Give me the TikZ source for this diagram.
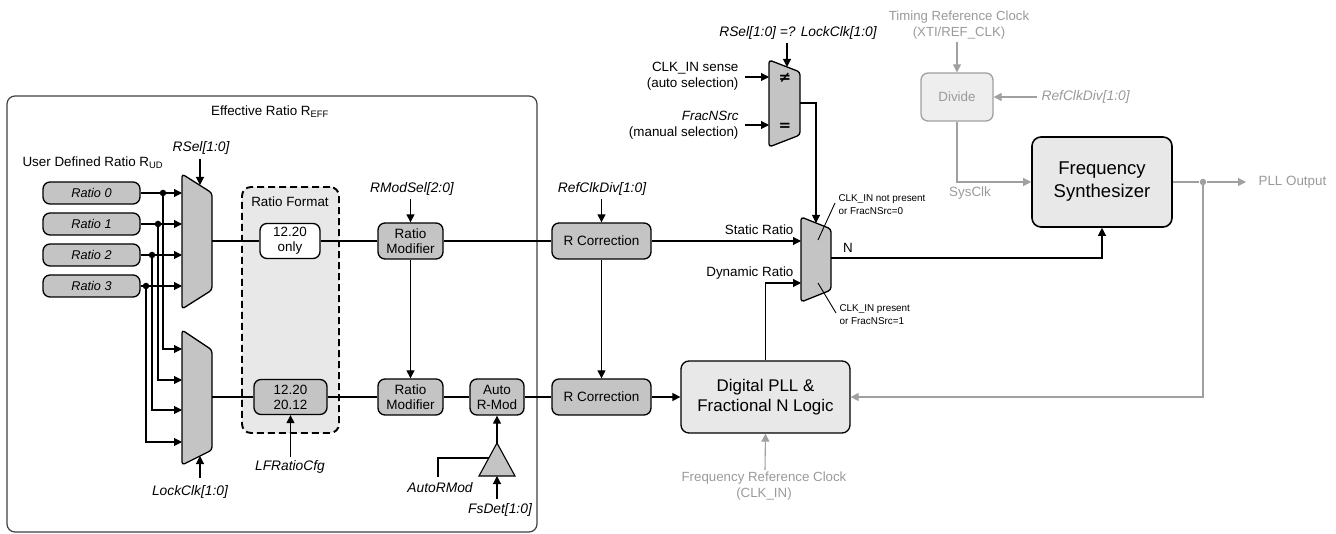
\documentclass[tikz,border=0pt]{standalone}
\usepackage{fontspec}
\setmainfont{Liberation Sans}
\newfontfamily\djvfont{DejaVu Sans}
\usetikzlibrary{arrows.meta,calc}
\definecolor{blk}{HTML}{C4C4C4}
\definecolor{lite}{HTML}{E8E8E8}
\definecolor{gline}{HTML}{A0A0A0}
\definecolor{gtext}{HTML}{9A9A9A}
\definecolor{gfill}{HTML}{EEEEEE}
\begin{document}
\begin{tikzpicture}[x=1pt,y=-1pt,line width=1.1pt,
  >={Triangle[length=8pt,width=8pt]},
  txt/.style={font=\fontsize{13.4pt}{16pt}\selectfont,inner sep=0pt},
  itx/.style={font=\fontsize{13.8pt}{16pt}\selectfont\itshape,inner sep=0pt},
  small/.style={font=\fontsize{9.9pt}{13pt}\selectfont,inner sep=0pt,align=left},
  gbox/.style={draw,line width=1.3pt,rounded corners=7pt,fill=blk,inner sep=0pt,align=center,font=\fontsize{13.5pt}{15pt}\selectfont},
  ratiobox/.style={gbox,minimum width=97pt,minimum height=22pt,font=\fontsize{12.7pt}{15pt}\selectfont\itshape},
  mux/.style={draw,line width=1.3pt,fill=blk,rounded corners=3pt},
  dot/.style={circle,fill=black,inner sep=0pt,minimum size=6.5pt},
  symb/.style={font=\fontsize{15pt}{15pt}\djvfont\bfseries,inner sep=0pt}]
\useasboundingbox (0,0) rectangle (1336,534);

% big effective ratio box
\draw[line width=1.2pt,draw=black!75,rounded corners=8pt] (7,96) rectangle (537,532);
\node[txt] (eff) at (270,112) {Effective Ratio R\textsubscript{EFF}};
\node[txt,anchor=west] (ud) at (22,163) {User Defined Ratio R\textsubscript{UD}};

% ratio format dashed region
\node[draw,line width=1.9pt,dash pattern=on 7pt off 4pt,fill=lite,rounded corners=9pt,minimum width=97pt,minimum height=246pt,inner sep=0pt] (rf) at (290.5,310) {};
\node[txt] (rft) at (290,202) {Ratio Format};
\node[gbox,fill=white,minimum width=60pt,minimum height=35pt,font=\fontsize{13.4pt}{15pt}\selectfont] (f1) at (290,241) {12.20\\only};
\node[gbox,minimum width=73pt,minimum height=35pt,font=\fontsize{13.4pt}{15pt}\selectfont] (f2) at (290.5,397) {12.20\\20.12};

% ratio boxes
\node[ratiobox] (r0) at (91.5,193) {Ratio 0};
\node[ratiobox] (r1) at (91.5,224) {Ratio 1};
\node[ratiobox] (r2) at (91.5,255) {Ratio 2};
\node[ratiobox] (r3) at (91.5,286) {Ratio 3};

% muxes
\draw[mux] (182,174) -- (212,193) -- (212,290) -- (182,309) -- cycle;
\draw[mux] (182,330) -- (212,350) -- (212,450) -- (182,465) -- cycle;
\coordinate (ma0) at (182,193); \coordinate (ma1) at (182,224);
\coordinate (ma2) at (182,255); \coordinate (ma3) at (182,286);
\coordinate (mb0) at (182,349); \coordinate (mb1) at (182,380);
\coordinate (mb2) at (182,410); \coordinate (mb3) at (182,442);
\coordinate (maout) at (212,241); \coordinate (mbout) at (212,397);
\coordinate (masel) at (200,185); \coordinate (mbsel) at (200,456);

\node[dot] (d0) at (163,193) {};
\node[dot] (d1) at (158,224) {};
\node[dot] (d2) at (152,255) {};
\node[dot] (d3) at (146,286) {};
\draw[->] (r0.east) -- (ma0);
\draw[->] (r1.east) -- (ma1);
\draw[->] (r2.east) -- (ma2);
\draw[->] (r3.east) -- (ma3);
\draw[->] (d0.center) |- (mb0);
\draw[->] (d1.center) |- (mb1);
\draw[->] (d2.center) |- (mb2);
\draw[->] (d3.center) |- (mb3);

\node[itx] (rsel) at (201,148) {RSel[1:0]};
\draw[->] (200,159) -- (masel);
\node[itx] (lclk) at (190,492) {LockClk[1:0]};
\draw[->] (200,478) -- (mbsel);
\node[itx] (lfr) at (290,467) {LFRatioCfg};
\coordinate (lfrt) at (290.5,457);
\draw[->] (lfrt) -- (f2.south);

% ratio modifiers etc
\node[gbox,minimum width=65pt,minimum height=36pt,font=\fontsize{13.5pt}{15pt}\selectfont] (rm1) at (410.5,241) {Ratio\\Modifier};
\node[gbox,minimum width=65pt,minimum height=36pt,font=\fontsize{13.5pt}{15pt}\selectfont] (rm2) at (410.5,397) {Ratio\\Modifier};
\node[gbox,minimum width=54pt,minimum height=36pt,font=\fontsize{13.5pt}{15pt}\selectfont] (arm) at (497,397) {Auto\\R-Mod};
\node[gbox,minimum width=99pt,minimum height=36pt] (rc1) at (601.5,241) {R Correction};
\node[gbox,minimum width=99pt,minimum height=36pt] (rc2) at (601.5,397) {R Correction};

\node[itx] (rms) at (412,189) {RModSel[2:0]};
\coordinate (rmst) at (410.5,199);
\draw[->] (rmst) -- (rm1.north);
\node[itx] (rcd) at (602,189) {RefClkDiv[1:0]};
\coordinate (rcdt) at (601.5,199);
\draw[->] (rcdt) -- (rc1.north);
\draw[->] (rm1.south) -- (rm2.north);
\draw[->] (rc1.south) -- (rc2.north);

\draw (maout) -- (f1.west);
\draw (f1.east) -- (rm1.west);
\draw (rm1.east) -- (rc1.west);
\draw (mbout) -- (f2.west);
\draw (f2.east) -- (rm2.west);
\draw (rm2.east) -- (arm.west);
\draw (arm.east) -- (rc2.west);

% auto rmod buffer
\draw[mux,rounded corners=0pt,line width=1.1pt] (497,443) -- (515,476) -- (479,476) -- cycle;
\coordinate (bufa) at (497,443); \coordinate (bufb) at (497,476); \coordinate (bufl) at (488.5,458);
\draw[->] (bufa) -- (arm.south);
\node[itx] (fsd) at (500,510) {FsDet[1:0]};
\coordinate (fsdt) at (497,499);
\draw[->] (fsdt) -- (bufb);
\node[itx] (armt) at (440,488) {AutoRMod};
\coordinate (armtt) at (438,477);
\draw (armtt) |- (bufl);

% digital PLL
\node[draw,line width=1.3pt,rounded corners=8pt,fill=lite,minimum width=169pt,minimum height=72pt,inner sep=0pt,align=center,font=\fontsize{16.9pt}{19.5pt}\selectfont] (dpll) at (765.5,397) {Digital PLL \&\\Fractional N Logic};
\draw[->] (rc2.east) -- (dpll.west);

% select mux
\draw[mux] (769,60) -- (800,72) -- (800,135) -- (769,147) -- cycle;
\node[symb] (neq) at (785,78) {≠};
\node[symb] (eqs) at (785,127) {=};
\coordinate (sa) at (769,77); \coordinate (sb) at (769,125);
\coordinate (ssel) at (787,67); \coordinate (sout) at (800,103);
\node[itx] (rslk) at (798,33) {RSel[1:0] =? LockClk[1:0]};
\coordinate (rslkt) at (787,43);
\draw[->] (rslkt) -- (ssel);
\node[txt,anchor=east,align=right] (cks) at (739,76) {CLK\_IN sense\\(auto selection)};
\coordinate (ckst) at (745,77);
\draw[->] (ckst) -- (sa);
\node[txt,anchor=east,align=right] (fns) at (739,125) {\itshape FracNSrc\\(manual selection)};
\coordinate (fnst) at (745,125);
\draw[->] (fnst) -- (sb);

% output mux
\draw[mux] (801,217) -- (831,229) -- (831,290) -- (801,302) -- cycle;
\coordinate (oa) at (801,241); \coordinate (ob) at (801,283);
\coordinate (osel) at (816,223); \coordinate (oout) at (831,258);
\draw[->] (sout) -| (osel);
\draw[->] (rc1.east) -- (oa);
\node[txt,anchor=east] (str) at (794,230) {Static Ratio};
\draw[->] (dpll.north) |- (ob);
\node[txt,anchor=east] (dyr) at (794,273) {Dynamic Ratio};
\node[small,anchor=west] (n1) at (838,205) {CLK\_IN not present\\or FracNSrc=0};
\coordinate (l1a) at (818,240); \coordinate (l1b) at (835,203);
\draw[line width=0.9pt] (l1a) -- (l1b);
\node[small,anchor=west] (n2) at (839,315) {CLK\_IN present\\or FracNSrc=1};
\coordinate (l2a) at (818,283); \coordinate (l2b) at (836,313);
\draw[line width=0.9pt] (l2a) -- (l2b);

% frequency synthesizer
\node[draw,line width=1.6pt,rounded corners=9pt,fill=lite,minimum width=140pt,minimum height=90pt,inner sep=0pt,align=center,font=\fontsize{18.5pt}{23pt}\selectfont] (fs) at (1102,182) {Frequency\\Synthesizer};
\node[txt] (nl) at (848,248) {N};
\draw[->] (oout) -| (fs.south);

% gray reference path
\node[txt,text=gtext,align=center,font=\fontsize{13.2pt}{16pt}\selectfont] (trc) at (959,25) {Timing Reference Clock\\(XTI/REF\_CLK)};
\node[draw=gline,line width=1.3pt,rounded corners=7pt,fill=gfill,minimum width=72pt,minimum height=48pt,inner sep=0pt,text=gtext,font=\fontsize{13.4pt}{16pt}\selectfont] (div) at (957,97) {Divide};
\coordinate (trct) at (957,42);
\draw[->,draw=gline] (trct) -- (div.north);
\node[itx,text=gtext,anchor=west] (rcdg) at (1041,97) {RefClkDiv[1:0]};
\coordinate (rcdgt) at (1037,97);
\draw[->,draw=gline] (rcdgt) -- (div.east);
\draw[->,draw=gline] (div.south) |- (fs.west);
\node[txt,text=gtext] (sys) at (970,193) {SysClk};
\node[circle,fill=gline,inner sep=0pt,minimum size=6.5pt] (pd) at (1203,182) {};
\draw[draw=gline] (fs.east) -- (pd);
\coordinate (pout) at (1246,182);
\draw[->,draw=gline] (pd) -- (pout);
\node[txt,text=gtext,anchor=west] (pllo) at (1258,182) {PLL Output};
\draw[->,draw=gline] (pd.center) |- (dpll.east);
\node[txt,text=gtext,align=center,font=\fontsize{13.3pt}{16pt}\selectfont] (frc) at (764,486) {Frequency Reference Clock\\(CLK\_IN)};
\coordinate (frct) at (765,470);
\draw[->,draw=gline] (frct) -- (dpll.south);
\end{tikzpicture}
\end{document}
